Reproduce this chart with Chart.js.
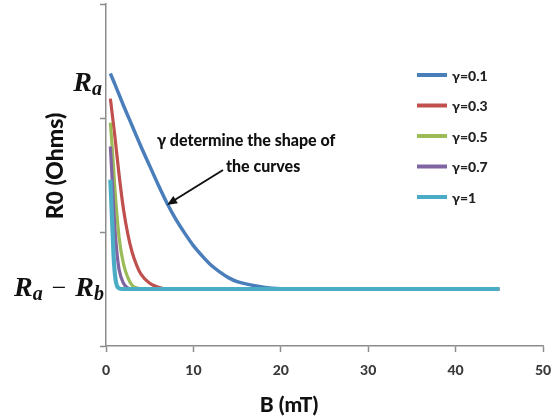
<!DOCTYPE html>
<html>
<head>
<meta charset="utf-8">
<script src="https://cdn.jsdelivr.net/npm/chart.js@4"></script>
<style>
  html, body { margin: 0; padding: 0; background: #fff; }
  #wrap { width: 552px; height: 418px; position: relative; }
</style>
</head>
<body>
<div id="wrap"><canvas id="myChart" width="552" height="418"></canvas></div>
<script>
// series values (x in mT, y in arbitrary resistance units)
const seriesNames = ["\u03b3=0.1", "\u03b3=0.3", "\u03b3=0.5", "\u03b3=0.7", "\u03b3=1"];
const seriesColors = ["#4a7ebb", "#c0504d", "#9bbb59", "#8064a2", "#4bacc6"];

const blueX = [0.5, 1, 2, 3, 4, 5, 6, 7, 8, 9, 10, 11, 12, 13, 14, 15, 16, 17, 18, 19, 20, 21, 25, 30, 35, 40, 45];
const blueY = [2.39, 2.30, 2.11, 1.93, 1.75, 1.58, 1.41, 1.25, 1.11, 0.99, 0.88, 0.79, 0.71, 0.65, 0.60, 0.565, 0.545, 0.528, 0.515, 0.507, 0.502, 0.5, 0.5, 0.5, 0.5, 0.5, 0.5];

const redX = [0.5, 1, 1.5, 2, 2.5, 3, 3.5, 4, 5, 6, 7, 45];
const redY = [2.17, 1.85, 1.50, 1.20, 0.98, 0.82, 0.71, 0.63, 0.55, 0.515, 0.5, 0.5];

const greenX = [0.5, 0.75, 1, 1.5, 2, 2.5, 3, 3.5, 4, 45];
const greenY = [1.96, 1.70, 1.40, 0.95, 0.72, 0.60, 0.53, 0.51, 0.5, 0.5];

const purpleX = [0.5, 0.75, 1, 1.25, 1.5, 2, 2.5, 3, 45];
const purpleY = [1.75, 1.40, 1.05, 0.82, 0.67, 0.55, 0.51, 0.5, 0.5];

const cyanX = [0.5, 0.7, 0.9, 1.1, 1.4, 1.8, 45];
const cyanY = [1.46, 1.10, 0.75, 0.58, 0.51, 0.5, 0.5];

const xTicks = [0, 10, 20, 30, 40, 50];

function pts(xs, ys) {
    return xs.map((x, i) => ({ x: x, y: ys[i] }));
}

const allX = [blueX, redX, greenX, purpleX, cyanX];
const allY = [blueY, redY, greenY, purpleY, cyanY];
const widths = [3.5, 3.2, 3.2, 3.2, 4.2];

const data = {
    datasets: seriesNames.map((name, i) => ({
        label: name,
        data: pts(allX[i], allY[i]),
        borderColor: seriesColors[i],
        borderWidth: widths[i],
        pointRadius: 0,
        cubicInterpolationMode: 'monotone',
        order: 5 - i
    }))
};

const axisGray = "#8c8c8c";
const labelColor = "#3a3a3a";

// draws legend, annotation, axis titles and math labels
const extras = {
    id: 'extras',
    afterDraw(chart) {
        const ctx = chart.ctx;
        ctx.save();

        // legend
        seriesNames.forEach((name, i) => {
            const y = 75 + i * 30.5;
            ctx.strokeStyle = seriesColors[i];
            ctx.lineWidth = 4;
            ctx.beginPath();
            ctx.moveTo(417, y);
            ctx.lineTo(447, y);
            ctx.stroke();
            ctx.fillStyle = "#222";
            ctx.font = "900 14px Lato";
            ctx.textBaseline = "middle";
            ctx.textAlign = "left";
            ctx.fillText(name, 452, y + 1);
        });

        // annotation
        ctx.fillStyle = "#111";
        ctx.font = "900 16px Lato";
        ctx.textBaseline = "middle";
        ctx.textAlign = "left";
        ctx.fillText("\u03b3 determine the shape of", 157, 141);
        ctx.fillText("the curves", 226, 167);

        // arrow
        ctx.strokeStyle = "#111";
        ctx.fillStyle = "#111";
        ctx.lineWidth = 2;
        const x1 = 223, y1 = 170, x2 = 167, y2 = 205;
        ctx.beginPath();
        ctx.moveTo(x1, y1);
        ctx.lineTo(x2 + 6, y2 - 4);
        ctx.stroke();
        const ang = Math.atan2(y2 - y1, x2 - x1);
        ctx.beginPath();
        ctx.moveTo(x2, y2);
        ctx.lineTo(x2 - 11 * Math.cos(ang - 0.4), y2 - 11 * Math.sin(ang - 0.4));
        ctx.lineTo(x2 - 11 * Math.cos(ang + 0.4), y2 - 11 * Math.sin(ang + 0.4));
        ctx.closePath();
        ctx.fill();

        // axis titles
        ctx.fillStyle = "#111";
        ctx.font = "900 21px Lato";
        ctx.textAlign = "center";
        ctx.fillText("B (mT)", 289, 405);
        ctx.save();
        ctx.translate(56, 166);
        ctx.rotate(-Math.PI / 2);
        ctx.font = "900 23px Lato";
        ctx.fillText("R0 (Ohms)", 0, 0);
        ctx.restore();

        // math labels, right aligned
        function mathLabel(parts, right, base) {
            let w = 0;
            parts.forEach(p => { ctx.font = p.font; w += ctx.measureText(p.t).width + (p.gap || 0); });
            let x = right - w;
            ctx.textAlign = "left";
            ctx.textBaseline = "alphabetic";
            parts.forEach(p => {
                ctx.font = p.font;
                ctx.fillText(p.t, x, base + (p.dy || 0));
                x += ctx.measureText(p.t).width + (p.gap || 0);
            });
        }
        const big = "bold italic 28px 'Liberation Serif'";
        const sub = "bold italic 20px 'Liberation Serif'";
        ctx.fillStyle = "#111";
        mathLabel([{ t: "R", font: big }, { t: "a", font: sub, dy: 4 }], 102, 91);
        mathLabel([
            { t: "R", font: big }, { t: "a", font: sub, dy: 4, gap: 9 },
            { t: "\u2212", font: "26px 'Liberation Serif'", gap: 9 },
            { t: "R", font: big }, { t: "b", font: sub, dy: 4 }
        ], 104, 296);

        ctx.restore();
    }
};

const config = {
    type: 'line',
    data: data,
    options: {
        responsive: false,
        animation: false,
        layout: { padding: { left: 0, right: 9, top: 4, bottom: 0 } },
        plugins: {
            legend: { display: false },
            tooltip: { enabled: false }
        },
        scales: {
            x: {
                type: 'linear',
                min: 0,
                max: 50,
                afterBuildTicks: (scale) => { scale.ticks = xTicks.map(v => ({ value: v })); },
                afterFit: (scale) => {
                    scale.height = 72;
                    scale.paddingLeft = 0;
                    scale.paddingRight = 0;
                },
                grid: { drawOnChartArea: false, drawTicks: true, tickLength: 6, color: axisGray, tickWidth: 1.5 },
                border: { color: axisGray, width: 1.5 },
                ticks: {
                    color: labelColor,
                    font: { family: 'Lato', size: 14, weight: '900' },
                    padding: 10,
                    maxRotation: 0
                }
            },
            y: {
                min: 0,
                max: 3,
                afterFit: (scale) => {
                    scale.width = 106;
                    scale.paddingTop = 0;
                    scale.paddingBottom = 0;
                },
                grid: { drawOnChartArea: false, drawTicks: true, tickLength: 6, color: axisGray, tickWidth: 1.5 },
                border: { color: axisGray, width: 1.5 },
                ticks: { stepSize: 1, callback: () => '' }
            }
        }
    },
    plugins: [extras]
};

var ctx = document.getElementById("myChart").getContext('2d');
var myChart = new Chart(ctx, config);
</script>
</body>
</html>
